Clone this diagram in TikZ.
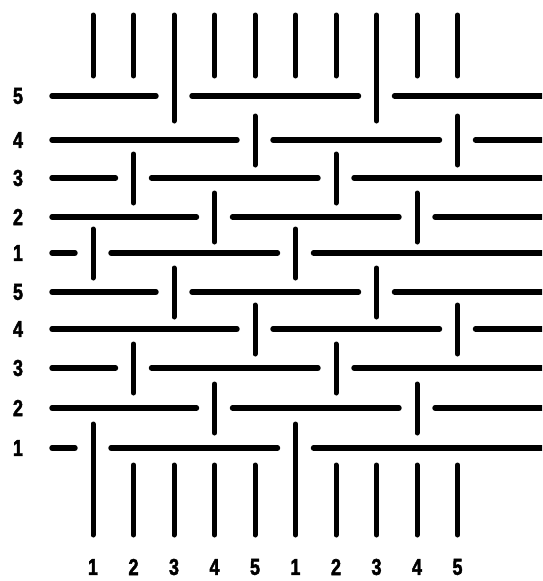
\documentclass[tikz,border=0pt]{standalone}
\usepackage{fontspec}
\newfontfamily\labfont{Liberation Sans Bold}[FakeBold=2.5]
\begin{document}
\begin{tikzpicture}[x=1pt,y=-1pt,
		weft/.style={line width=5.4pt,line cap=round},
		warp/.style={line width=5pt,line cap=round},
		lab/.style={font=\labfont\fontsize{23}{23}\selectfont,inner sep=0pt}]
		\clip (0,0) rectangle (542,581);
		% loose warp ends, top and bottom
		\foreach \c [evaluate=\c as \x using 93+40.5*(\c-1)] in {1,...,10} {
			\draw[warp] (\x,15) -- (\x,76);
			\draw[warp] (\x,465) -- (\x,535);
			\pgfmathtruncatemacro{\r}{mod(\c-1,5)+1}
			\node[lab] (b\c) at (\x,567) {\scalebox{0.78}[1]{\r}};
		}
		% weft rows: y / warp end lying on top
		\foreach \y/\c [count=\i, evaluate=\c as \xa using 93+40.5*(\c-1), evaluate=\c as \xb using 295.5+40.5*(\c-1)]
			in {96/3,140/5,178/2,217/4,253/1,292/3,329/5,368/2,408/4,448/1} {
			\draw[weft] (52,\y) -- (\xa-18,\y) (\xa+18,\y) -- (\xb-18,\y) (\xb+18,\y) -- (548,\y);
			\draw[warp] (\xa,\y-24) -- (\xa,\y+25) (\xb,\y-24) -- (\xb,\y+25);
			\pgfmathtruncatemacro{\r}{mod(15-\i,5)+1}
			\node[lab] (l\i) at (18,\y) {\scalebox{0.78}[1]{\r}};
		}
	\end{tikzpicture}
\end{document}
